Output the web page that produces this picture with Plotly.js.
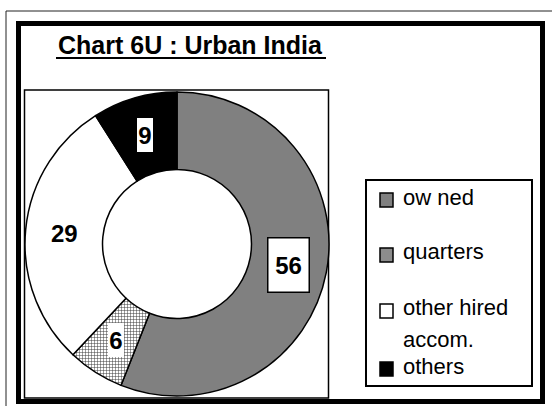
<!DOCTYPE html>
<html>
<head>
<meta charset="utf-8">
<script src="https://cdn.plot.ly/plotly-3.0.1.min.js"></script>
<style>
html,body{margin:0;padding:0;background:#fff;}
#chart{width:552px;height:406px;}
</style>
</head>
<body>
<div id="chart"></div>
<script>
// ---- data ----
const chartTitle = 'Chart 6U : Urban India';
const categories = ['ow ned', 'quarters', 'other hired\naccom.', 'others'];
const values = [56, 6, 29, 9];
const sliceColors = ['#808080', '#d4d4d4', '#ffffff', '#000000'];
const slicePatterns = ['', '+', '', ''];
const legendSwatchColors = ['#808080', '#8c8c8c', '#ffffff', '#000000'];
const labelBoxed = [true, true, false, true];
const labelBordered = [true, false, false, false];

// ---- layout helpers ----
const W = 552, H = 406;
const px = x => x / W;
const py = y => 1 - y / H;

// pie geometry (pixels)
const cx = 177, cy = 244, R = 152, holeFrac = 0.49;

const trace = {
  type: 'pie',
  values: values,
  labels: categories.map(c => c.replace('\n', ' ')),
  sort: false,
  direction: 'clockwise',
  rotation: 0,
  hole: holeFrac,
  textinfo: 'none',
  hoverinfo: 'none',
  showlegend: false,
  marker: {
    colors: sliceColors,
    line: {color: '#000000', width: 1.5},
    pattern: {shape: slicePatterns, fgcolor: '#3a3a3a', size: 3, solidity: 0.3}
  },
  domain: {x: [px(cx - R), px(cx + R)], y: [py(cy + R), py(cy - R)]}
};

const shapes = [
  // outer thin frame
  {type: 'rect', xref: 'paper', yref: 'paper', x0: px(6), x1: px(600), y0: py(460), y1: py(11),
   line: {color: '#222', width: 1}, layer: 'below'},
  // thick chart border
  {type: 'rect', xref: 'paper', yref: 'paper', x0: px(18.5), x1: px(542.5), y0: py(401.5), y1: py(23.5),
   line: {color: '#000', width: 5}, layer: 'below'},
  // plot box
  {type: 'rect', xref: 'paper', yref: 'paper', x0: px(24.5), x1: px(328.5), y0: py(398), y1: py(90),
   line: {color: '#000', width: 1.5}, layer: 'below'},
  // legend box
  {type: 'rect', xref: 'paper', yref: 'paper', x0: px(366), x1: px(532), y0: py(386), y1: py(180),
   line: {color: '#000', width: 2}, layer: 'below'},
  // title underline
  {type: 'line', xref: 'paper', yref: 'paper', x0: px(56), x1: px(326), y0: py(58), y1: py(58),
   line: {color: '#000', width: 2}}
];

const annotations = [
  {xref: 'paper', yref: 'paper', x: px(56), y: py(44.5), xanchor: 'left', yanchor: 'middle',
   text: '<b>' + chartTitle + '</b>', showarrow: false,
   font: {family: 'Liberation Sans, Arial, sans-serif', size: 25, color: '#000'}}
];

// value labels at mid-ring radius, positioned from the data
const total = values.reduce((a, b) => a + b, 0);
const rMid = R * (1 + holeFrac) / 2;
let cum = 0;
values.forEach((v, i) => {
  const midFrac = (cum + v / 2) / total;
  cum += v;
  const ang = midFrac * 2 * Math.PI;
  const x = cx + rMid * Math.sin(ang);
  const y = cy - rMid * Math.cos(ang);
  const a = {
    xref: 'paper', yref: 'paper', x: px(x), y: py(y), xanchor: 'center', yanchor: 'middle',
    text: '<b>' + v + '</b>', showarrow: false,
    font: {family: 'Liberation Sans, Arial, sans-serif', size: 24, color: '#000'}
  };
  if (labelBoxed[i]) {
    a.bgcolor = '#ffffff';
    a.borderpad = 0;
    if (labelBordered[i]) {
      a.bordercolor = '#000';
      a.borderwidth = 1.5;
      a.width = 40;
      a.height = 53;
    } else {
      a.borderwidth = 0;
      a.width = 16;
      a.height = 34;
    }
  }
  annotations.push(a);
});

// manual legend
const legendRowY = [200, 255, 311, 369];   // swatch centres (px)
const legendBase = [205, 259, 315, 374];   // text baselines (px)
const wrapStep = 32;
categories.forEach((c, i) => {
  shapes.push({type: 'rect', xref: 'paper', yref: 'paper',
    x0: px(380), x1: px(393), y0: py(legendRowY[i] + 7), y1: py(legendRowY[i] - 7),
    fillcolor: legendSwatchColors[i], line: {color: '#000', width: 1.5}});
  const lines = c.split('\n');
  lines.forEach((ln, j) => {
    const base = legendBase[i] + j * wrapStep;
    annotations.push({xref: 'paper', yref: 'paper', x: px(402), y: py(base - 7.7), xanchor: 'left', yanchor: 'middle',
      text: ln, showarrow: false, borderpad: 0,
      font: {family: 'Liberation Sans, Arial, sans-serif', size: 22, color: '#000'}});
  });
});

const layout = {
  width: W, height: H,
  margin: {l: 0, r: 0, t: 0, b: 0},
  paper_bgcolor: '#ffffff',
  showlegend: false,
  shapes: shapes,
  annotations: annotations
};

Plotly.newPlot('chart', [trace], layout, {displayModeBar: false, staticPlot: true});
</script>
</body>
</html>
